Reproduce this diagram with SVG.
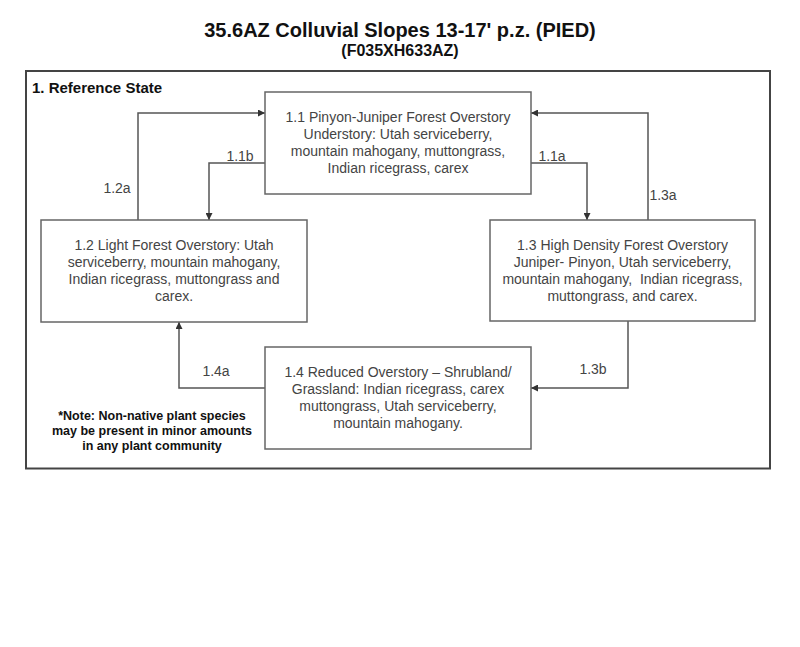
<svg xmlns="http://www.w3.org/2000/svg" width="800" height="647" viewBox="0 0 800 647">
<defs>
<marker id="ah" viewBox="0 0 10 10" refX="10" refY="5" markerWidth="7" markerHeight="7" markerUnits="userSpaceOnUse" orient="auto">
<path d="M0,0 L10,5 L0,10 z" fill="#333"/>
</marker>
<style>
.box{fill:#fff;stroke:#666;stroke-width:1.5}
.bt{font-family:"Liberation Sans",Arial,sans-serif;font-size:14px;fill:#444;text-anchor:middle}
.lbl{font-family:"Liberation Sans",Arial,sans-serif;font-size:14px;fill:#444;text-anchor:middle}
.con{fill:none;stroke:#555;stroke-width:1.5;marker-end:url(#ah)}
.hd{font-family:"Liberation Sans",Arial,sans-serif;font-weight:bold;fill:#111}
</style>
</defs>
<rect width="800" height="647" fill="#fff"/>
<text class="hd" x="400" y="37" font-size="20" text-anchor="middle">35.6AZ Colluvial Slopes 13-17' p.z. (PIED)</text>
<text class="hd" x="400" y="56" font-size="16" text-anchor="middle">(F035XH633AZ)</text>
<g id="frame">
<rect x="26" y="71" width="744" height="397.5" fill="none" stroke="#444" stroke-width="2"/>
<text class="hd" x="32" y="93" font-size="15">1. Reference State</text>
</g>
<g id="connectors">
<path class="con" d="M138,220 V113 H265"/>
<path class="con" d="M265,163 H209 V220"/>
<path class="con" d="M531,163 H587 V220"/>
<path class="con" d="M648,220 V113 H531"/>
<path class="con" d="M628,321 V388 H531"/>
<path class="con" d="M265,388 H179 V322"/>
<text class="lbl" x="117" y="193">1.2a</text>
<text class="lbl" x="240" y="161">1.1b</text>
<text class="lbl" x="552" y="161">1.1a</text>
<text class="lbl" x="663" y="200">1.3a</text>
<text class="lbl" x="593" y="374">1.3b</text>
<text class="lbl" x="216" y="376">1.4a</text>
</g>
<g id="n11">
<rect class="box" x="265" y="92" width="266" height="102"/>
<text class="bt" x="398" y="122">1.1 Pinyon-Juniper Forest Overstory</text>
<text class="bt" x="398" y="139">Understory: Utah serviceberry,</text>
<text class="bt" x="398" y="156">mountain mahogany, muttongrass,</text>
<text class="bt" x="398" y="173">Indian ricegrass, carex</text>
</g>
<g id="n12">
<rect class="box" x="41" y="220" width="266" height="102"/>
<text class="bt" x="174" y="250">1.2 Light Forest Overstory: Utah</text>
<text class="bt" x="174" y="267">serviceberry, mountain mahogany,</text>
<text class="bt" x="174" y="284">Indian ricegrass, muttongrass and</text>
<text class="bt" x="174" y="301">carex.</text>
</g>
<g id="n13">
<rect class="box" x="490" y="220" width="265" height="101"/>
<text class="bt" x="622.5" y="250">1.3 High Density Forest Overstory</text>
<text class="bt" x="622.5" y="267">Juniper- Pinyon, Utah serviceberry,</text>
<text class="bt" x="622.5" y="284" xml:space="preserve">mountain mahogany,  Indian ricegrass,</text>
<text class="bt" x="622.5" y="301">muttongrass, and carex.</text>
</g>
<g id="n14">
<rect class="box" x="265" y="347" width="266" height="102"/>
<text class="bt" x="398" y="377">1.4 Reduced Overstory – Shrubland/</text>
<text class="bt" x="398" y="394">Grassland: Indian ricegrass, carex</text>
<text class="bt" x="398" y="411">muttongrass, Utah serviceberry,</text>
<text class="bt" x="398" y="428">mountain mahogany.</text>
</g>
<g id="note">
<text class="hd" x="152" y="420" font-size="12.5" text-anchor="middle">*Note: Non-native plant species</text>
<text class="hd" x="152" y="435" font-size="12.5" text-anchor="middle">may be present in minor amounts</text>
<text class="hd" x="152" y="450" font-size="12.5" text-anchor="middle">in any plant community</text>
</g>
</svg>
